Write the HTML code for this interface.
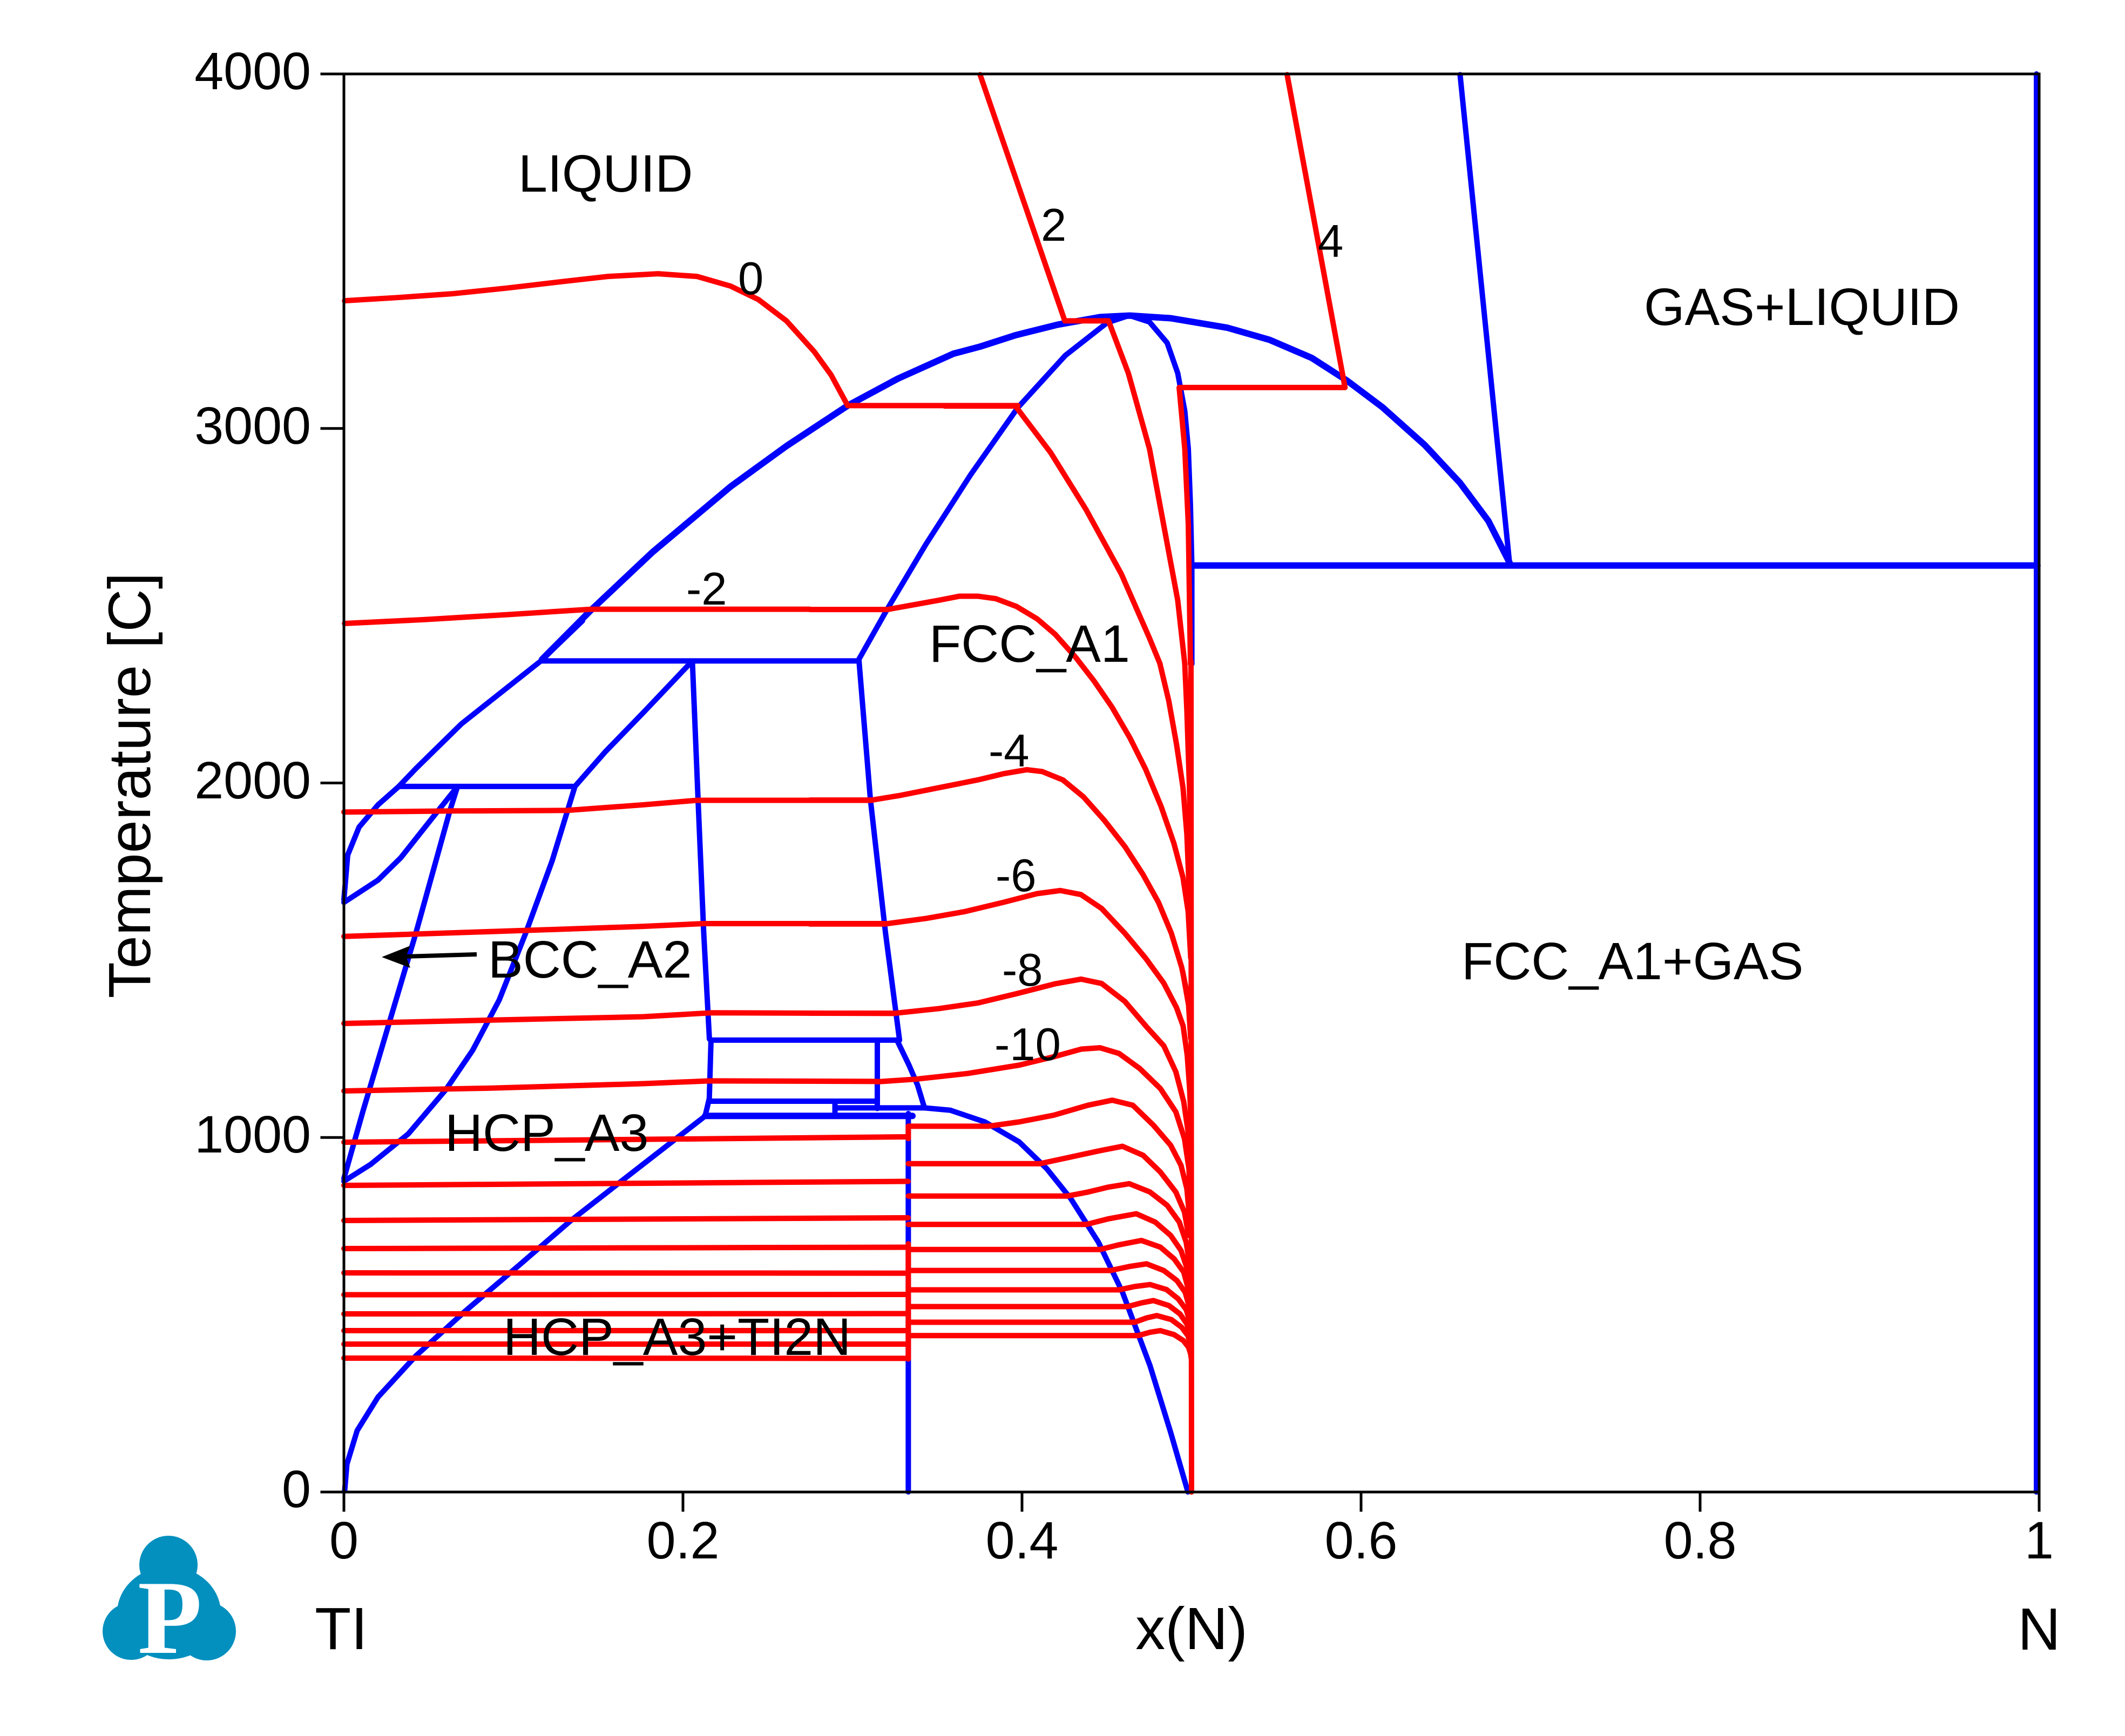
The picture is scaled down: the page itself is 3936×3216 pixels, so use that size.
<!DOCTYPE html>
<html><head><meta charset="utf-8">
<style>
html,body{margin:0;padding:0;background:#fff;}
svg{display:block;}
.b{fill:none;stroke:#0000FF;stroke-width:10;stroke-linejoin:round;stroke-linecap:round;vector-effect:non-scaling-stroke;}
.bt{fill:none;stroke:#0000FF;stroke-width:12;stroke-linejoin:round;stroke-linecap:round;vector-effect:non-scaling-stroke;}
.r{fill:none;stroke:#FF0000;stroke-width:10;stroke-linejoin:round;stroke-linecap:round;vector-effect:non-scaling-stroke;}
.ax{fill:none;stroke:#000;stroke-width:5;stroke-linecap:square;}
text{font-family:"Liberation Sans",Arial,sans-serif;fill:#000;}
.tl{font-size:97px;}
.cl{font-size:85px;}
.at{font-size:110px;}
</style></head>
<body>
<svg width="3936" height="3216" viewBox="0 0 3936 3216" xmlns="http://www.w3.org/2000/svg">
<rect x="0" y="0" width="3936" height="3216" fill="#fff"/>

<!-- ===== BLUE ===== -->
<g transform="translate(630,130) scale(1.03316,0.71429)">
<polyline class="bt" points="362,1528 450,1400 560,1250 700,1080 800,975 910,870 1000,800 1100,735"/>
<polyline class="b" points="930,1528 980,1400 1050,1230 1130,1050 1215,875 1300,740 1375,655 1415,636"/>
</g>
<g transform="translate(1750,130) scale(1.30740,0.70153)">
<polyline class="bt" points="12.6,748.5 50,730 100,700 160,672 220,652 262,648 320,655 400,680 460,712 520,760 570,820 620,890 680,990 730,1090 770,1190 800,1300"/>
<polyline class="b" points="262,648 290,665 315,720 330,800 340,900 345,1000 348,1150 350,1308 350,1568"/>
<polyline class="bt" points="350,1308 1548,1308"/>
<polyline class="b" points="730,12 800,1300"/>
</g>
<line class="b" x1="3772" y1="137" x2="3772" y2="2764"/>
<g transform="translate(630,1150) scale(0.70153,1.03316)">
<polyline class="b" points="10,500 20,420 50,370 100,330 155,297 200,265 320,185 530,72 640,0"/>
<polyline class="b" points="530,72 1370,72"/>
<polyline class="b" points="10,505 100,465 160,425 230,365 310,297"/>
<polyline class="b" points="155,297 620,297"/>
<polyline class="b" points="310,297 290,340 200,560 130,720 60,880 10,1000"/>
<polyline class="b" points="620,297 560,430 490,560 420,680 350,770 280,840 180,920 80,975 10,1005"/>
<polyline class="b" points="930,72 800,165 700,235 620,297"/>
<polyline class="b" points="930,72 945,320 960,560 975,750"/>
<polyline class="b" points="1370,72 1400,320 1440,560 1477,752"/>
<polyline class="b" points="964,888 780,985 610,1075 470,1157 330,1238 200,1318 100,1392 45,1452 18,1512 12,1560"/>
</g>
<g transform="translate(1250,1800) scale(0.63776,0.61862)">
<polyline class="b" points="105,205 100,380 88,432"/>
<polyline class="b" points="105,205 645,205"/>
<polyline class="b" points="645,205 680,280 705,340 725,408"/>
<polyline class="b" points="588,205 588,410"/>
<polyline class="b" points="100,388 588,388"/>
<polyline class="b" points="465,408 725,408"/>
<polyline class="b" points="465,395 465,432"/>
<polyline class="bt" points="88,432 690,432"/>
<polyline class="b" points="725,408 800,415 900,450 1000,510 1080,590 1150,680 1230,810 1300,960 1380,1180 1440,1380 1490,1558"/>
<polyline class="b" points="678,425 678,1558"/>
</g>

<!-- ===== RED ===== -->
<g transform="translate(630,130) scale(1.03316,0.71429)">
<polyline class="r" points="8,598 100,590 200,580 300,565 400,548 480,535 570,528 640,535 700,560 750,595 800,650 850,730 880,790 910,870 1215,870"/>
<polyline class="r" points="8,1435 150,1425 300,1412 450,1398 842,1398"/>
</g>
<g transform="translate(1750,130) scale(1.30740,0.70153)">
<polyline class="r" points="50,12 170,662 232,662 260,800 290,1000 310,1200 330,1400 340,1568"/>
<polyline class="r" points="485,12 567,838 332,838 340,1000 345,1200 348,1568"/>
<polyline class="r" points="0,887 100,887 150,1010 200,1160 250,1330 290,1500 305,1568"/>
</g>
<line class="r" x1="2206" y1="1225" x2="2207" y2="2764"/>
<g transform="translate(1500,1000) scale(0.47832,0.57398)">
<polyline class="r" points="0,225 300,225 400,210 500,195 580,182 650,182 720,190 800,215 880,255 950,305 1030,380 1100,455 1170,540 1240,640 1300,740 1360,860 1410,980 1445,1090 1465,1200 1475,1350"/>
<polyline class="r" points="1356,401 1390,520 1420,660 1445,800 1460,950 1470,1150 1476,1350"/>
<polyline class="r" points="1452,401 1460,550 1470,800 1475,1000"/>
<polyline class="r" points="0,840 240,840 350,825 500,800 650,775 750,755 840,742 900,748 980,775 1060,830 1140,905 1220,990 1290,1080 1350,1170 1400,1270 1440,1380 1465,1480 1475,1568"/>
<polyline class="r" points="0,1240 290,1240 450,1222 600,1200 750,1170 880,1142 970,1132 1050,1145 1130,1190 1220,1270 1300,1350 1370,1430 1420,1510 1445,1568"/>
<polyline class="r" points="0,1528 330,1528 500,1513 650,1495 800,1465 950,1433 1050,1418 1130,1432 1220,1490 1300,1568"/>
</g>
<g transform="translate(630,1150) scale(0.70153,1.03316)">
<polyline class="r" points="10,343 300,341 600,340 800,330 940,322 1404,322"/>
<polyline class="r" points="10,566 500,555 800,548 960,543 1438,543"/>
<polyline class="r" points="10,722 400,716 800,710 980,703 1465,704"/>
<polyline class="r" points="10,843 400,838 800,830 975,825 1416,826"/>
</g>
<g transform="translate(1250,1800) scale(0.63776,0.61862)">
<polyline class="r" points="1475,0 1492,100 1498,200"/>
<polyline class="r" points="1476,162 1488,250 1495,350 1499,450"/>
<polyline class="r" points="1367,162 1420,222 1455,300 1478,390 1492,490 1498,600"/>
<polyline class="r" points="585,330 700,322 850,305 1000,280 1100,255 1180,232 1235,228 1290,245 1350,290 1410,350 1455,420 1480,500 1493,590 1498,700"/>
<polyline class="r" points="678,463 910,463 1000,450 1100,430 1200,400 1270,385 1330,400 1390,460 1440,520 1470,580 1487,650 1495,740"/>
<polyline class="r" points="678,575 1060,575 1150,555 1240,535 1300,523 1360,550 1410,600 1455,660 1480,720 1492,790"/>
<polyline class="r" points="678,672 1140,672 1200,660 1260,645 1320,635 1380,660 1430,700 1465,750 1485,810 1494,870"/>
<polyline class="r" points="678,757 1195,757 1260,740 1340,725 1395,750 1440,790 1470,835 1488,890 1495,940"/>
<polyline class="r" points="678,832 1235,832 1290,818 1355,805 1410,825 1450,860 1478,900 1491,950 1496,990"/>
<polyline class="r" points="678,895 1265,895 1320,883 1370,875 1420,895 1458,925 1482,960 1493,1000 1497,1030"/>
<polyline class="r" points="678,953 1290,953 1335,943 1380,937 1428,952 1462,980 1485,1012 1495,1045 1498,1070"/>
<polyline class="r" points="678,1003 1315,1003 1355,992 1390,985 1435,1000 1467,1025 1487,1055 1496,1085 1499,1105"/>
<polyline class="r" points="678,1050 1335,1050 1370,1037 1400,1030 1442,1042 1472,1065 1490,1090 1497,1115 1499,1130"/>
<polyline class="r" points="678,1090 1345,1090 1380,1080 1410,1075 1450,1087 1477,1105 1492,1125 1498,1145 1500,1160"/>
<polyline class="r" points="678,463 678,500"/>
<polyline class="r" points="678,815 678,1160"/>
</g>
<polyline class="r" points="637,2116 1682,2106"/>
<polyline class="r" points="637,2196 1682,2188.5"/>
<polyline class="r" points="637,2261 1682,2256"/>
<polyline class="r" points="637,2313 1682,2310.5"/>
<polyline class="r" points="637,2358 1682,2358.6"/>
<polyline class="r" points="637,2398.5 1682,2398"/>
<polyline class="r" points="637,2434 1682,2433.5"/>
<polyline class="r" points="637,2465 1682,2465"/>
<polyline class="r" points="637,2490 1682,2490"/>
<polyline class="r" points="637,2516 1682,2516.4"/>

<!-- ===== AXES ===== -->
<rect class="ax" x="637" y="137" width="3140" height="2627"/>
<line class="ax" x1="596" y1="137" x2="637" y2="137"/>
<line class="ax" x1="596" y1="793.75" x2="637" y2="793.75"/>
<line class="ax" x1="596" y1="1450.5" x2="637" y2="1450.5"/>
<line class="ax" x1="596" y1="2107.25" x2="637" y2="2107.25"/>
<line class="ax" x1="596" y1="2764" x2="637" y2="2764"/>
<line class="ax" x1="637" y1="2764" x2="637" y2="2798"/>
<line class="ax" x1="1265" y1="2764" x2="1265" y2="2798"/>
<line class="ax" x1="1893" y1="2764" x2="1893" y2="2798"/>
<line class="ax" x1="2521" y1="2764" x2="2521" y2="2798"/>
<line class="ax" x1="3149" y1="2764" x2="3149" y2="2798"/>
<line class="ax" x1="3777" y1="2764" x2="3777" y2="2798"/>

<g class="tl" text-anchor="end">
<text x="576" y="165">4000</text>
<text x="576" y="822">3000</text>
<text x="576" y="1479">2000</text>
<text x="576" y="2135">1000</text>
<text x="576" y="2792">0</text>
</g>
<g class="tl" text-anchor="middle">
<text x="637" y="2887">0</text>
<text x="1265" y="2887">0.2</text>
<text x="1893" y="2887">0.4</text>
<text x="2521" y="2887">0.6</text>
<text x="3149" y="2887">0.8</text>
<text x="3777" y="2887">1</text>
</g>

<g class="at" text-anchor="middle">
<text x="632" y="3055">TI</text>
<text x="2207" y="3055">x(N)</text>
<text x="3777" y="3056">N</text>
<text transform="translate(278,1455) rotate(-90)">Temperature [C]</text>
</g>

<g class="tl">
<text x="960" y="355">LIQUID</text>
<text x="3045" y="602">GAS+LIQUID</text>
<text x="1721" y="1226">FCC_A1</text>
<text x="904" y="1811">BCC_A2</text>
<text x="824" y="2132">HCP_A3</text>
<text x="932" y="2510">HCP_A3+TI2N</text>
<text x="2707" y="1814">FCC_A1+GAS</text>
</g>

<g class="cl">
<text x="1367" y="545">0</text>
<text x="1928" y="446">2</text>
<text x="2441" y="476">4</text>
<text x="1271" y="1120">-2</text>
<text x="1831" y="1420">-4</text>
<text x="1844" y="1651">-6</text>
<text x="1856" y="1826">-8</text>
<text x="1842" y="1964">-10</text>
</g>

<line x1="750" y1="1772" x2="883" y2="1768" stroke="#000" stroke-width="8"/>
<polygon points="707,1773 760,1752 752,1772 760,1793" fill="#000"/>

<g fill="#0390BF">
<circle cx="312" cy="2899" r="54"/>
<circle cx="243" cy="3022" r="53"/>
<circle cx="383" cy="3022" r="54"/>
<ellipse cx="313" cy="2988" rx="96" ry="86"/>
</g>
<text x="255" y="3062" style="font-family:'Liberation Serif',serif;font-weight:bold;font-size:195px;fill:#fff;">P</text>
</svg>
</body></html>
